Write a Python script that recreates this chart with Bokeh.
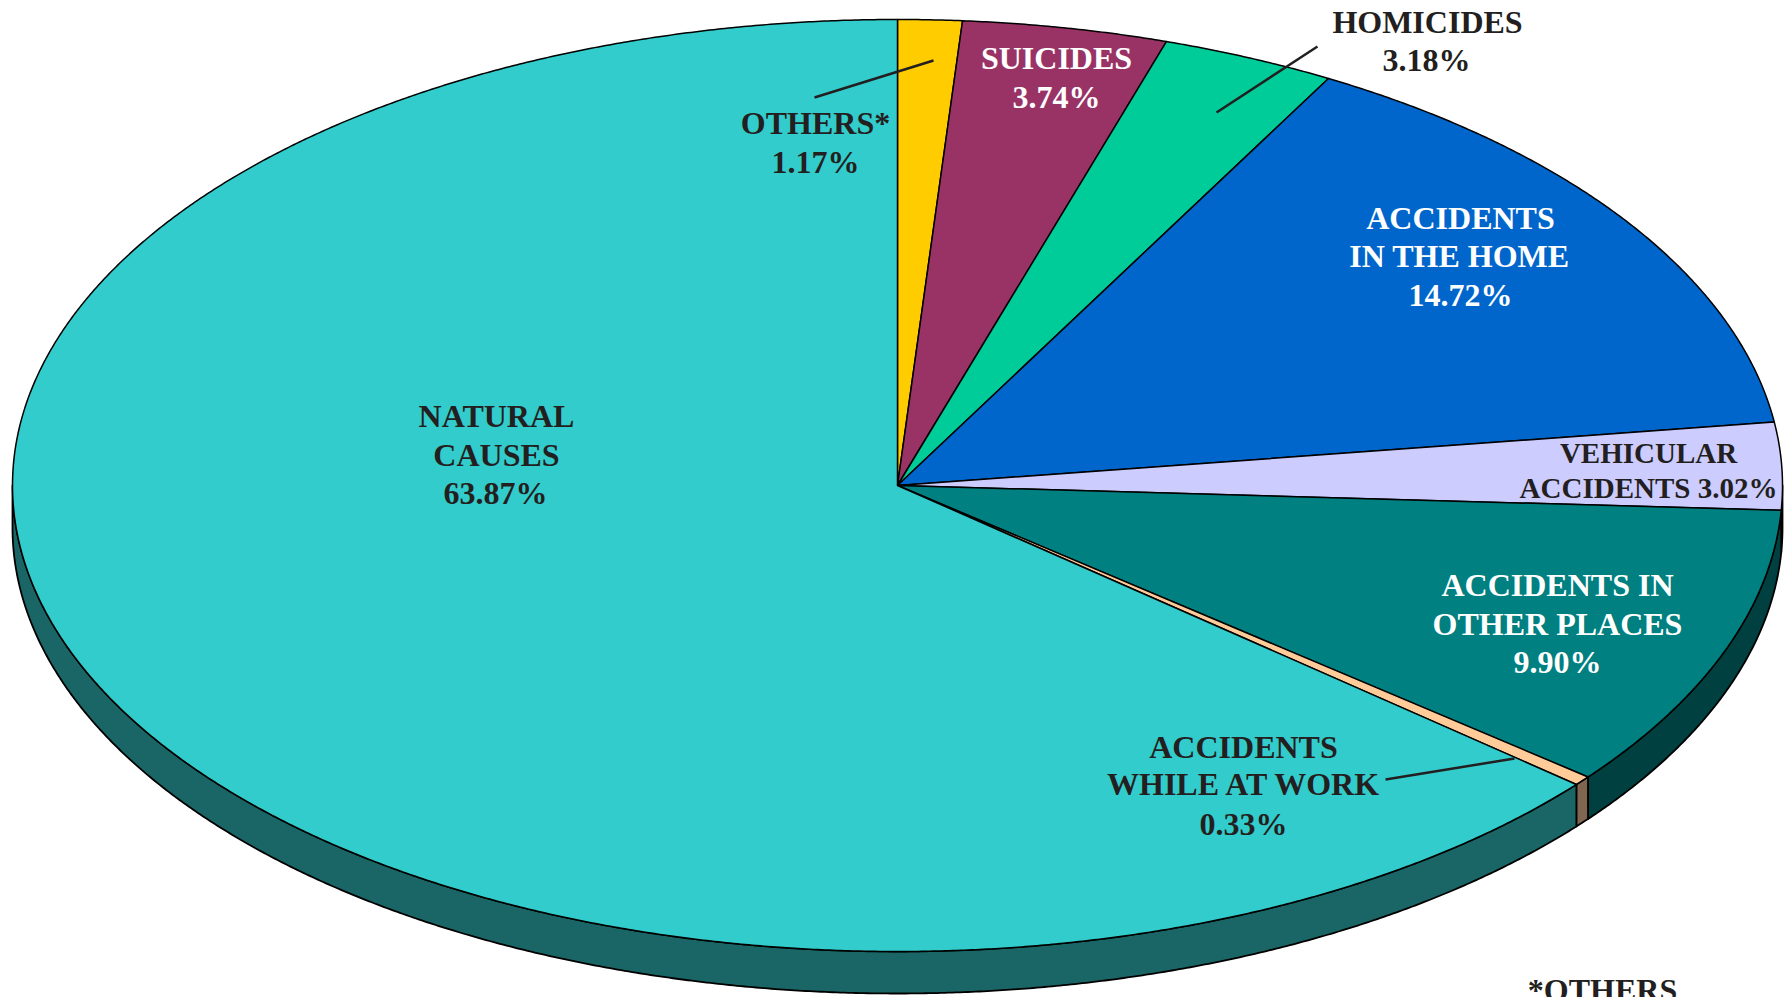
import numpy as np
from bokeh.plotting import figure
from bokeh.models import Range1d
from bokeh.core.properties import value
from bokeh.embed import file_html
from bokeh.resources import INLINE

# Data: clockwise from 12 o'clock
categories = ["OTHERS*", "SUICIDES", "HOMICIDES", "ACCIDENTS IN THE HOME", "VEHICULAR ACCIDENTS",
              "ACCIDENTS IN OTHER PLACES", "ACCIDENTS WHILE AT WORK", "NATURAL CAUSES"]
shares = [1.17, 3.74, 3.18, 14.72, 3.02, 9.90, 0.33, 63.87]

# Styles
top_colors = ["#FFCC00", "#993366", "#00CC99", "#0066CC", "#CCCCFF", "#008080", "#FFCC99", "#33CCCC"]
side_colors = ["#806600", "#4D1A33", "#00664D", "#003366", "#666680", "#004040", "#806650", "#1A6666"]
INK = "#231F20"

# Layout, in page pixels
CX, CY, RX, RY, DEPTH = 897.0, 485.0, 885.0, 466.0, 42.0
PAGE_W, PAGE_H = 1790, 997

label_text = ["NATURAL", "CAUSES", "63.87%", "OTHERS*", "1.17%", "SUICIDES", "3.74%", "HOMICIDES", "3.18%",
              "ACCIDENTS", "IN THE HOME", "14.72%", "VEHICULAR", "ACCIDENTS 3.02%",
              "ACCIDENTS IN", "OTHER PLACES", "9.90%", "ACCIDENTS", "WHILE AT WORK", "0.33%", "*OTHERS"]
label_x = [496, 496, 495, 815, 815, 1056, 1056, 1427, 1426, 1460, 1459, 1460, 1648, 1648,
           1557, 1557, 1557, 1243, 1244, 1243, 1602]
label_y = [415, 454.5, 492, 122, 161, 57, 96, 21, 59.5, 217.5, 255.5, 294, 452, 487,
           584, 623, 661, 746, 783, 823, 989]
label_color = [INK] * 5 + ["#FFFFFF"] * 2 + [INK] * 2 + ["#FFFFFF"] * 3 + [INK] * 2 + ["#FFFFFF"] * 3 + [INK] * 4
label_size = ["32px"] * 12 + ["29px"] * 2 + ["32px"] * 7

leader_x = [[933, 814], [1317, 1216], [1514, 1385]]
leader_y = [[60, 97], [46, 112], [758, 779]]


def arc(a0, a1):
    n = max(2, int(abs(a1 - a0) / 0.25) + 1)
    t = np.radians(np.linspace(a0, a1, n))
    return CX + RX * np.sin(t), CY - RY * np.cos(t)


edges = np.concatenate([[0.0], np.cumsum(shares)]) / sum(shares) * 360.0

p = figure(width=PAGE_W, height=PAGE_H, output_backend="svg", toolbar_location=None,
           x_range=Range1d(0, PAGE_W), y_range=Range1d(PAGE_H, 0),
           min_border=0, outline_line_color=None)
p.axis.visible = False
p.grid.visible = False
p.background_fill_color = "#FFFFFF"
p.border_fill_color = "#FFFFFF"

# Side wall: only what lies between 3 o'clock and 9 o'clock clockwise faces the viewer
side_xs, side_ys, side_fill = [], [], []
for i in range(len(shares)):
    a0, a1 = max(edges[i], 90.0), min(edges[i + 1], 270.0)
    if a1 <= a0:
        continue
    x, y = arc(a0, a1)
    side_xs.append(np.concatenate([x, x[::-1]]))
    side_ys.append(np.concatenate([y, y[::-1] + DEPTH]))
    side_fill.append(side_colors[i])
p.patches(side_xs, side_ys, fill_color=side_fill, line_color="#000000", line_width=1.8, line_join="round")

# Top face
top_xs, top_ys = [], []
for i in range(len(shares)):
    x, y = arc(edges[i], edges[i + 1])
    top_xs.append(np.concatenate([[CX], x]))
    top_ys.append(np.concatenate([[CY], y]))
p.patches(top_xs, top_ys, fill_color=top_colors, line_color="#000000", line_width=1.5, line_join="round")

p.multi_line(leader_x, leader_y, line_color=INK, line_width=2.5)

p.text(label_x, label_y, text=label_text, text_color=label_color, text_font_size=label_size,
       text_font=value("Liberation Serif"), text_font_style="bold",
       text_align="center", text_baseline="middle")

open("out.html", "w").write(file_html(p, INLINE))
